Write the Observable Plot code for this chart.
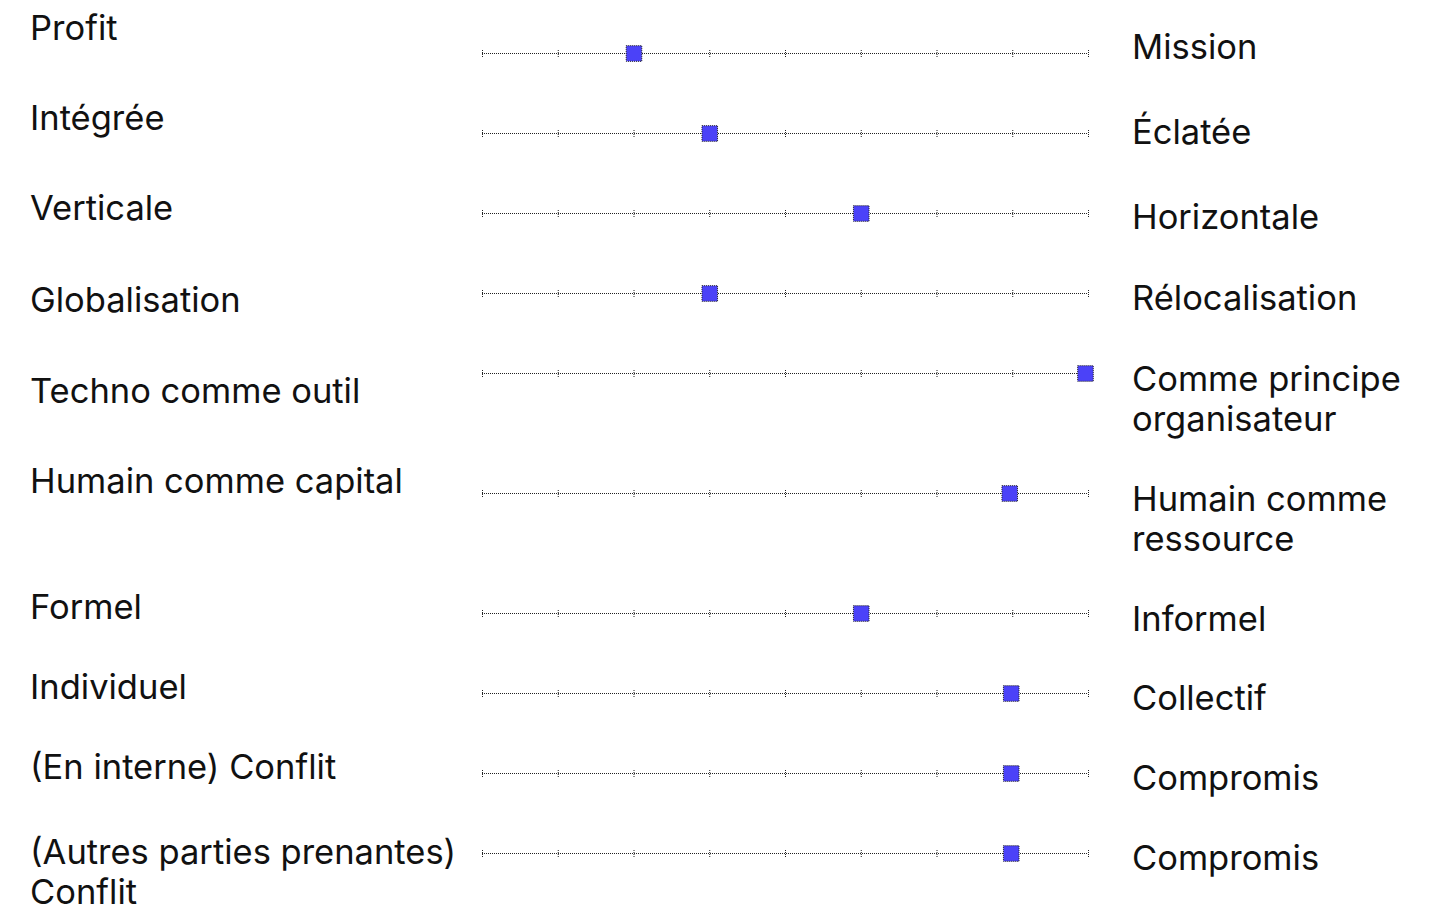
<!DOCTYPE html>
<html>
<head>
<meta charset="utf-8">
<script src="https://cdn.jsdelivr.net/npm/d3@7"></script>
<script src="https://cdn.jsdelivr.net/npm/@observablehq/plot@0.6"></script>
<style>
  html, body { margin: 0; padding: 0; background: #fff; }
  body { width: 1442px; height: 913px; overflow: hidden; font-family: Inter, "Noto Sans", sans-serif; color: #111; }
  #chart { padding-top: 13px; }
  .row { position: relative; display: flex; align-items: flex-start; min-height: 80px; }
  .left { position: relative; width: 440px; margin-left: 30px; padding-top: 15px; font-size: 34.5px; line-height: 40px; }
  .plot { position: absolute; left: 470px; top: 0; }
  .right { position: absolute; left: 1132px; width: 300px; padding-top: 25px; padding-bottom: 15px; font-size: 34.5px; line-height: 40px; }
  .spacer { padding-top: 25px; padding-bottom: 15px; line-height: 40px; font-size: 34.5px; visibility: hidden; width: 300px; }
</style>
</head>
<body>
<div id="chart"></div>
<script>
const leftLabels = ["Profit", "Intégrée", "Verticale", "Globalisation", "Techno comme outil", "Humain comme capital", "Formel", "Individuel", "(En interne) Conflit", "(Autres parties prenantes) Conflit"];
const rightLabels = ["Mission", "Éclatée", "Horizontale", "Rélocalisation", "Comme principe organisateur", "Humain comme ressource", "Informel", "Collectif", "Compromis", "Compromis"];
const values = [2, 3, 5, 3, 7.96, 6.96, 5, 6.98, 6.98, 6.98];
const ticks = [0, 1, 2, 3, 4, 5, 6, 7, 8];

// layout-only nudges (px) for label text, matching the reference page layout
const leftNudge = [-20, -10, 0, 12, 23, -7, -1, -1, -1, 4];
const rightNudge = [-11, -6, -1, 0, 1, 1, 1, 0, 0, 0];

const chart = document.getElementById("chart");
leftLabels.forEach((lab, i) => {
  const row = document.createElement("div");
  row.className = "row";
  const left = document.createElement("div");
  left.className = "left";
  left.style.top = leftNudge[i] + "px";
  left.textContent = lab;
  row.appendChild(left);

  const right = document.createElement("div");
  right.className = "right";
  right.style.top = rightNudge[i] + "px";
  right.textContent = rightLabels[i];
  const spacer = document.createElement("div");
  spacer.className = "spacer";
  spacer.textContent = rightLabels[i];
  const spWrap = document.createElement("div");
  spWrap.style.marginLeft = "auto";
  spWrap.appendChild(spacer);

  const plot = Plot.plot({
    width: 630,
    height: 80,
    marginLeft: 12,
    marginRight: 12,
    marginTop: 0,
    marginBottom: 0,
    x: {domain: [ticks[0], ticks[ticks.length - 1]], axis: null},
    y: {domain: [-1, 1], axis: null},
    marks: [
      Plot.ruleY([{lo: ticks[0], hi: ticks[ticks.length - 1]}], {x1: "lo", x2: "hi", y: () => 0, stroke: "#222", strokeWidth: 1, strokeDasharray: "1,1"}),
      Plot.ruleX(ticks, {x: d => d, y1: -0.1, y2: 0.1, stroke: "#222", strokeWidth: 1, strokeDasharray: "1,1"}),
      Plot.dot([values[i]], {x: d => d, y: () => 0, symbol: "square", r: 8.8, fill: "#4b42f8", stroke: "#222", strokeWidth: 1, strokeDasharray: "1,1"})
    ]
  });
  plot.classList.add("plot");
  row.appendChild(plot);
  row.appendChild(right);
  row.appendChild(spWrap);
  chart.appendChild(row);
});
</script>
</body>
</html>
